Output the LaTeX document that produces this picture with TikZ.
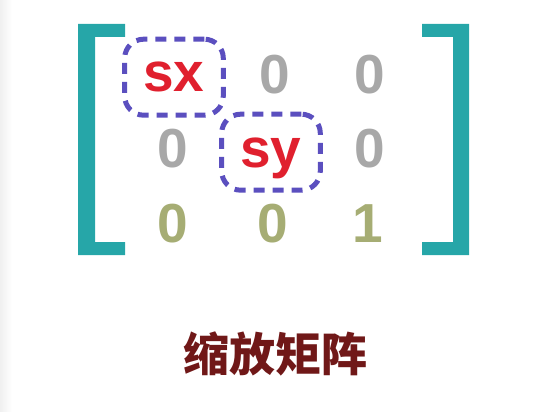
\documentclass[tikz,border=0pt]{standalone}
\usepackage{fontspec}
\setmainfont{Liberation Sans}
\newfontfamily\cjkfont{Noto Sans CJK SC}
\usetikzlibrary{fit}
\definecolor{bracketteal}{HTML}{26A6A8}
\definecolor{scalered}{HTML}{E0202E}
\definecolor{zerogray}{HTML}{A8A8A8}
\definecolor{lastolive}{HTML}{A6AD74}
\definecolor{boxpurple}{HTML}{5B4FBF}
\definecolor{captionred}{HTML}{701818}

\begin{document}
\begin{tikzpicture}[x=1pt,y=-1pt,
  entry/.style={anchor=base,inner sep=0pt,text depth=0pt,
    font=\fontsize{55}{60}\selectfont\bfseries},
  scalebox/.style={draw=boxpurple,line width=5pt,rounded corners=19pt,
    dash pattern=on 11pt off 8pt,inner xsep=18.5pt,inner ysep=23pt}]
\useasboundingbox (0,0) rectangle (554,412);
\shade [left color=black!6,right color=white] (0,0) rectangle (12,412);
% brackets
\fill [bracketteal] (78,24) -- (125,24) -- (125,37) -- (95,37) -- (95,242) -- (125,242) -- (125,255) -- (78,255) -- cycle;
\fill [bracketteal] (469,24) -- (422,24) -- (422,37) -- (453,37) -- (453,242) -- (422,242) -- (422,255) -- (469,255) -- cycle;
% entries
\node [entry,text=scalered] (sx) at (174,92) {sx};
\node [entry,text=zerogray] (a12) at (275,93) {0};
\node [entry,text=zerogray] (a13) at (370,93) {0};
\node [entry,text=zerogray] (a21) at (173,167) {0};
\node [entry,text=scalered] (sy) at (271,167) {sy};
\node [entry,text=zerogray] (a23) at (370,167) {0};
\node [entry,text=lastolive] (a31) at (173,242) {0};
\node [entry,text=lastolive] (a32) at (273,242) {0};
\node [entry,text=lastolive] (a33) at (368,242) {1};
\node [scalebox,fit=(sx)] (sxbox) {};
\node [scalebox,fit=(sy)] (sybox) {};
% caption
\node [text=captionred,font=\cjkfont\bfseries\fontsize{46}{50}\selectfont] (caption) at (275,354) {缩放矩阵};
\end{tikzpicture}
\end{document}
